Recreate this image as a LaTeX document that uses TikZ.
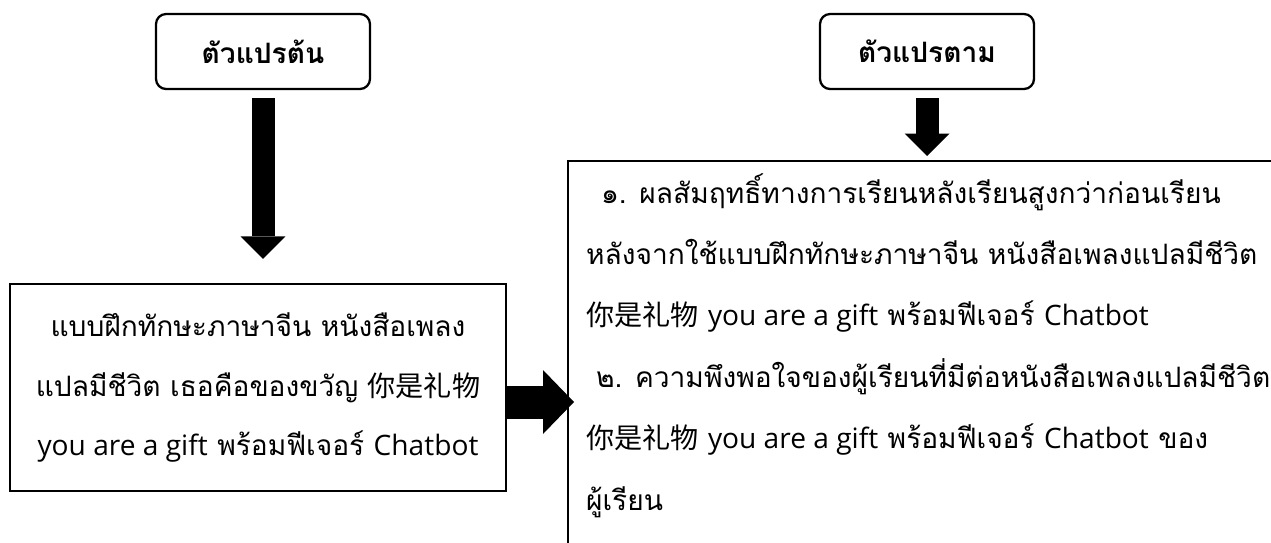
\documentclass[tikz,border=0pt]{standalone}
\usepackage{fontspec}
\setmainfont[Script=Thai]{Loma}
\newfontfamily\latinfont{Open Sans}
\newfontfamily\cjk{Noto Sans CJK SC}
\usetikzlibrary{arrows.meta}

\newcommand{\en}[1]{{\latinfont #1}}
\newcommand{\zh}[1]{{\cjk #1}}

\begin{document}
\begin{tikzpicture}[
  x=0.02cm, y=-0.02cm,
  varbox/.style={draw, line width=1.3pt, rounded corners=0.2cm,
    minimum width=4.28cm, minimum height=1.5cm,
    font=\bfseries\fontsize{16}{18}\selectfont},
  textbox/.style={draw, line width=1.4pt, inner sep=0pt,
    font=\fontsize{16}{34}\selectfont},
  downarrow/.style={line width=0.46cm,
    -{Triangle[length=0.45cm, width=0.9cm, line width=0pt]}},
  sidearrow/.style={line width=0.66cm,
    -{Triangle[length=0.62cm, width=1.28cm, line width=0pt]}}
]
  \useasboundingbox (0,0) rectangle (1271,542);
  \clip (0,0) rectangle (1271,542);

  %% Variables
  \node[varbox] (iv) at (263,51.5) {ตัวแปรต้น};
  \node[varbox] (dv) at (927,51.5) {ตัวแปรตาม};

  %% Boxes
  \node[textbox, minimum width=9.92cm, minimum height=4.14cm, align=center] (lbox) at (258,387.5)
    {แบบฝึกทักษะภาษาจีน หนังสือเพลง\\
     แปลมีชีวิต เธอคือของขวัญ \zh{你是礼物}\\
     \en{you are a gift} พร้อมฟีเจอร์ \en{Chatbot}};
  \node[textbox, anchor=north west, minimum width=14.4cm, align=left,
    font=\fontsize{16}{35}\selectfont,
    inner xsep=0.14cm, inner ysep=0.24cm, text depth=9cm] (rbox) at (567,160)
    {\hspace*{0.3cm}๑. ผลสัมฤทธิ์ทางการเรียนหลังเรียนสูงกว่าก่อนเรียน\\
     หลังจากใช้แบบฝึกทักษะภาษาจีน หนังสือเพลงแปลมีชีวิต\\
     \zh{你是礼物} \en{you are a gift} พร้อมฟีเจอร์ \en{Chatbot}\\
     \hspace*{0.2cm}๒. ความพึงพอใจของผู้เรียนที่มีต่อหนังสือเพลงแปลมีชีวิต\\
     \zh{你是礼物} \en{you are a gift} พร้อมฟีเจอร์ \en{Chatbot} ของ\\
     ผู้เรียน};

  %% Arrows
  \draw[downarrow, shorten <=0.16cm, shorten >=0.48cm] (iv.south) -- (iv.south |- lbox.north);
  \draw[downarrow, shorten <=0.16cm, shorten >=0.08cm] (dv.south) -- (dv.south |- rbox.north);
  \draw[sidearrow, shorten >=-0.14cm] ([yshift=-0.29cm]lbox.east) -- ([yshift=-0.29cm]lbox.east -| rbox.west);
\end{tikzpicture}
\end{document}
